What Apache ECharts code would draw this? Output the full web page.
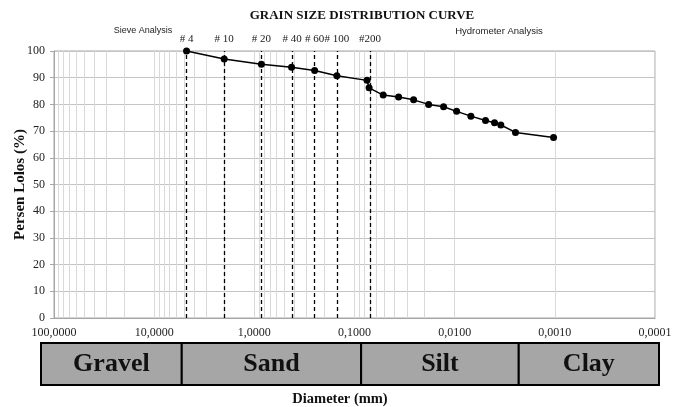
<!DOCTYPE html>
<html><head><meta charset="utf-8">
<script src="https://cdn.jsdelivr.net/npm/echarts@6/dist/echarts.min.js"></script>
<style>html,body{margin:0;padding:0;background:#fff}#c{width:685px;height:407px}</style>
</head><body><div id="c"></div>
<script>
// Particle size data (diameter in mm, percent finer)
const diameters = [4.75, 2.0, 0.85, 0.425, 0.25, 0.15, 0.075, 0.0715, 0.0517, 0.0363, 0.0257, 0.0182, 0.0129, 0.00957, 0.00689, 0.00492, 0.0040, 0.00346, 0.00247, 0.00103];
const percentFiner = [100, 97, 95, 93.9, 92.7, 90.7, 89.0, 86.2, 83.5, 82.8, 81.7, 80.0, 79.1, 77.4, 75.6, 74.0, 73.1, 72.3, 69.5, 67.6];
// Sieve / reference lines
const sieveNames = ['# 4', '# 10', '# 20', '# 40', '# 60', '# 100', '#200', ''];
const sieveSizes = [4.75, 2.0, 0.85, 0.425, 0.25, 0.15, 0.075, 0.002];
// Soil classification bar
const soilClasses = ['Gravel', 'Sand', 'Silt', 'Clay'];
const classBounds = [100, 4.3, 0.078, 0.0023, 0.0001];
// Log grid lines
const decades = [0.0001, 0.001, 0.01, 0.1, 1, 10];
const gridMultipliers = [2, 3, 4, 5, 6, 7, 8, 9];

const SERIF = '"Liberation Serif", "Times New Roman", serif';
const SANS = '"Liberation Sans", Arial, sans-serif';

const minorLines = [];
decades.forEach(d => gridMultipliers.forEach(m => minorLines.push({ xAxis: d * m })));

const chart = echarts.init(document.getElementById('c'));
chart.setOption({
  animation: false,
  backgroundColor: '#fff',
  graphic: [
    { type: 'text', x: 362, y: 16, style: { text: 'GRAIN SIZE DISTRIBUTION CURVE', font: 'bold 13px ' + SERIF, fill: '#111', align: 'center', verticalAlign: 'middle' } },
    { type: 'text', x: 143, y: 31, style: { text: 'Sieve Analysis', font: '9px ' + SANS, fill: '#222', align: 'center', verticalAlign: 'middle' } },
    { type: 'text', x: 499, y: 31, style: { text: 'Hydrometer Analysis', font: '9.5px ' + SANS, fill: '#222', align: 'center', verticalAlign: 'middle' } },
    { type: 'text', x: 340, y: 399, style: { text: 'Diameter (mm)', font: 'bold 14.5px ' + SERIF, fill: '#111', align: 'center', verticalAlign: 'middle' } }
  ],
  grid: [
    { left: 54, right: 30, top: 51, height: 267, show: true, borderColor: '#a6a6a6', borderWidth: 1, outerBoundsMode: 'none', containLabel: false },
    { left: 41, right: 26, top: 343, height: 42, outerBoundsMode: 'none', containLabel: false }
  ],
  xAxis: [
    {
      type: 'log', logBase: 10, min: 0.0001, max: 100, inverse: true, gridIndex: 0,
      axisLine: { show: true, lineStyle: { color: '#a6a6a6' } },
      axisTick: { show: false },
      axisLabel: { margin: 9, fontFamily: SERIF, fontSize: 12, color: '#222', formatter: v => Number(v).toFixed(4).replace('.', ',') },
      splitLine: { show: true, lineStyle: { color: '#d9d9d9', width: 1 } },
      minorTick: { show: false }
    },
    { type: 'log', logBase: 10, min: 0.0001, max: 100, inverse: true, gridIndex: 1, show: false }
  ],
  yAxis: [
    {
      type: 'value', min: 0, max: 100, interval: 10, gridIndex: 0,
      name: 'Persen Lolos (%)', nameLocation: 'middle', nameGap: 26, nameMoveOverlap: false,
      nameTextStyle: { fontFamily: SERIF, fontWeight: 'bold', fontSize: 15, color: '#111' },
      axisLine: { show: true, lineStyle: { color: '#a6a6a6' } },
      axisTick: { show: true, length: 4, lineStyle: { color: '#a6a6a6' } },
      axisLabel: { margin: 9, fontFamily: SERIF, fontSize: 12, color: '#222' },
      splitLine: { show: true, lineStyle: { color: '#c4c4c4', width: 1 } }
    },
    { type: 'value', min: 0, max: 1, gridIndex: 1, show: false }
  ],
  series: [
    {
      name: 'minorGrid', type: 'line', data: [], z: 1, silent: true,
      markLine: {
        silent: true, symbol: ['none', 'none'], animation: false,
        lineStyle: { color: '#d9d9d9', type: 'solid', width: 1 },
        label: { show: false },
        emphasis: { disabled: true },
        data: minorLines
      }
    },
    {
      name: 'sieves', type: 'line', data: [], z: 2, silent: true,
      markLine: {
        silent: true, symbol: ['none', 'none'], animation: false,
        lineStyle: { color: '#000', type: [4, 3], width: 1.3 },
        label: { show: true, position: 'end', distance: 6, formatter: '{b}', fontFamily: SERIF, fontSize: 11, color: '#222' },
        emphasis: { disabled: true },
        data: sieveSizes.map((s, i) => ({ name: sieveNames[i], xAxis: s }))
      }
    },
    {
      name: 'Persen Lolos', type: 'line', z: 5,
      data: diameters.map((d, i) => [d, percentFiner[i]]),
      symbol: 'circle', symbolSize: 7,
      itemStyle: { color: '#000' },
      lineStyle: { color: '#000', width: 1.5 }
    },
    {
      name: 'classes', type: 'custom', xAxisIndex: 1, yAxisIndex: 1, silent: true,
      data: soilClasses.map((n, i) => [classBounds[i], classBounds[i + 1]]),
      renderItem: function (params, api) {
        const p1 = api.coord([api.value(0), 0]);
        const p2 = api.coord([api.value(1), 1]);
        const x = Math.min(p1[0], p2[0]), w = Math.abs(p2[0] - p1[0]);
        const y = Math.min(p1[1], p2[1]), h = Math.abs(p2[1] - p1[1]);
        return {
          type: 'group', children: [
            { type: 'rect', shape: { x: x, y: y, width: w, height: h }, style: { fill: '#a6a6a6', stroke: '#000', lineWidth: 2 } },
            { type: 'text', x: x + w / 2, y: y + h / 2, style: { text: soilClasses[params.dataIndex], font: 'bold 26px ' + SERIF, fill: '#111', align: 'center', verticalAlign: 'middle' } }
          ]
        };
      }
    }
  ]
});
</script>
</body></html>
